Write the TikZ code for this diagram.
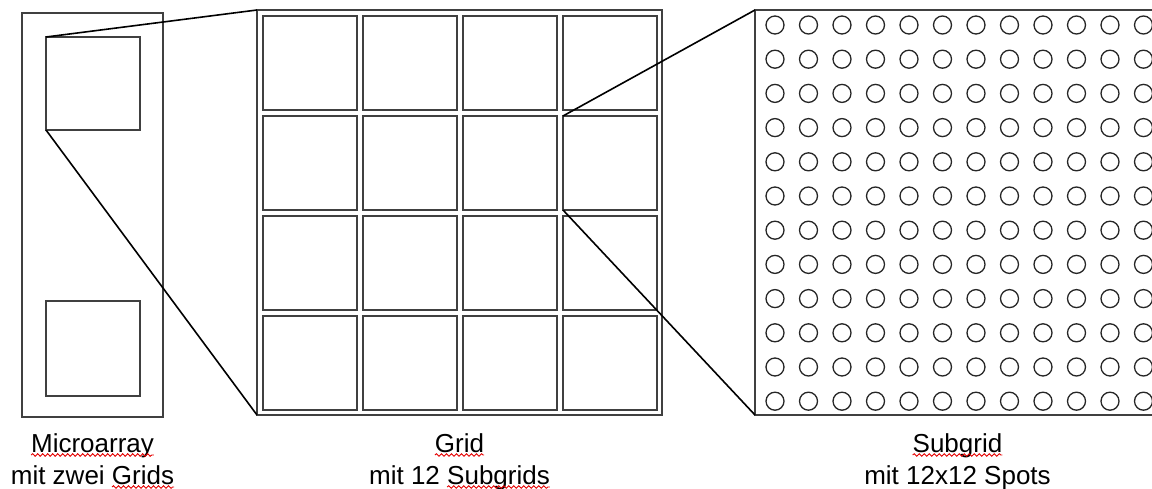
\documentclass[tikz,border=0pt]{standalone}
\usepackage{fontspec}
\setmainfont{Liberation Sans}
\usetikzlibrary{decorations.pathmorphing}

% red wavy line under a word
\newcommand{\redwave}[1]{\tikz[baseline=(w.base)]{\node[inner sep=0pt,outer sep=0pt] (w) {#1};
  \draw[overlay,red!90!black,line width=0.9pt,decorate,decoration={snake,amplitude=1.3pt,segment length=5pt}]
    ([yshift=-3pt]w.base west) -- ([yshift=-3pt]w.base east);}}

\begin{document}
\begin{tikzpicture}[x=1pt,y=-1pt,
    frame/.style={draw=black!75,line width=1.3pt,inner sep=0pt,outer sep=0pt},
    zoomline/.style={black,line width=1.6pt},
    spot/.style={draw=black!85,line width=1.3pt},
    caption/.style={anchor=base,font=\fontsize{26}{32}\selectfont,inner sep=0pt}]
        \useasboundingbox (0,0) rectangle (1152,489);
        \clip (0,0) rectangle (1152,489);
        % microarray with two grids
        \node[frame,minimum width=141,minimum height=404] (array) at (92.5,215) {};
        \node[frame,minimum width=94,minimum height=93] (field1) at (93,83.5) {};
        \node[frame,minimum width=94,minimum height=95] (field2) at (93,348.5) {};
        % grid with 4x4 subgrids
        \node[frame,minimum width=405,minimum height=405] (grid) at (459.5,212.5) {};
        \foreach \r in {0,...,3}
            \foreach \c in {0,...,3}
                \node[frame,minimum width=94,minimum height=94] (cell-\r-\c) at (310+100*\c,63+100*\r) {};
        % subgrid with spots
        \node[frame,minimum width=405,minimum height=405] (subgrid) at (957.5,212.5) {};
        \foreach \i in {0,...,11}
            \foreach \j in {0,...,11}
                \draw[spot] (775+33.5*\i,25+34.2*\j) circle (9);
        % zoom lines
        \draw[zoomline] (field1.north west) -- (grid.north west);
        \draw[zoomline] (field1.south west) -- (grid.south west);
        \draw[zoomline] (cell-1-3.north west) -- (subgrid.north west);
        \draw[zoomline] (cell-1-3.south west) -- (subgrid.south west);
        % captions
        \node[caption] (arraytop) at (92.5,452) {\redwave{Microarray}};
        \node[caption] (arraybot) at (92.5,484) {mit zwei \redwave{Grids}};
        \node[caption] (gridtop) at (459.5,452) {\redwave{Grid}};
        \node[caption] (gridbot) at (459.5,484) {mit 12 \redwave{Subgrids}};
        \node[caption] (subtop) at (957.5,452) {\redwave{Subgrid}};
        \node[caption] (subbot) at (957.5,484) {mit 12x12 Spots};
\end{tikzpicture}
\end{document}
